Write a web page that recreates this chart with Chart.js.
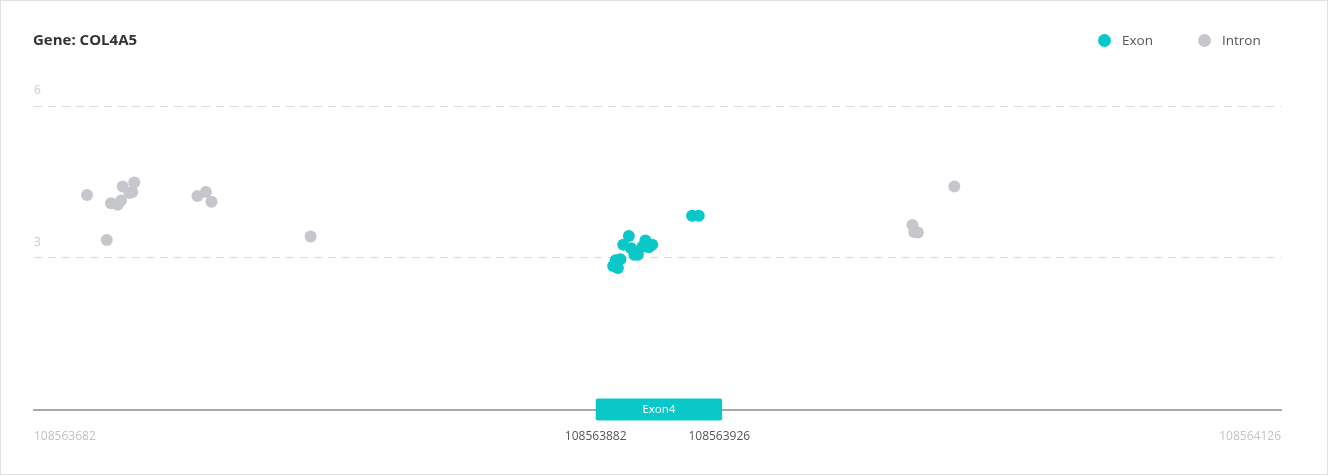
<!DOCTYPE html>
<html>
<head>
<meta charset="utf-8">
<script src="https://cdn.jsdelivr.net/npm/chart.js@4.4.1/dist/chart.umd.min.js"></script>
<style>
  html, body { margin: 0; padding: 0; background: #fff; }
  #card { position: relative; width: 1328px; height: 475px; box-sizing: border-box; border: 1px solid #e0e0e0; font-family: "Open Sans", "Noto Sans", sans-serif; }
  #plot { position: absolute; left: -1px; top: -1px; }
  .title { position: absolute; left: 32px; top: 28px; font-size: 15px; font-weight: 700; color: #333; line-height: 20px; }
  .legend { position: absolute; top: 29px; left: 1097px; font-size: 13.5px; color: #555; line-height: 20px; display: flex; }
  .legend span { display: flex; align-items: center; margin-right: 45px; }
  .legend i { display: inline-block; width: 13px; height: 13px; border-radius: 50%; margin-right: 11px; }
</style>
</head>
<body>
<div id="card">
  <canvas id="plot" width="1328" height="475"></canvas>
  <div class="title">Gene: COL4A5</div>
  <div class="legend">
    <span><i style="background:#0ac8c8"></i>Exon</span>
    <span><i style="background:#c5c7cd"></i>Intron</span>
  </div>
</div>
<script>
// genomic window and exon
const regionStart = 108563682;
const regionEnd = 108564126;
const exonName = 'Exon4';
const exonStart = 108563882;
const exonEnd = 108563926;
const xTickValues = [regionStart, exonStart, exonEnd, regionEnd];
const yTickValues = [0, 3, 6];

// variant positions and values
const exonPos = [108563888.2, 108563889.9, 108563889.1, 108563890.8, 108563891.8, 108563893.8, 108563894.6,
  108563895.8, 108563897.0, 108563898.6, 108563899.7, 108563900.9, 108563902.1, 108563916.3, 108563918.7];
const exonVal = [2.84, 2.80, 2.95, 2.97, 3.26, 3.43, 3.19, 3.06, 3.06, 3.22, 3.34, 3.21, 3.26, 3.83, 3.83];

const intronPos = [108563700.9, 108563707.9, 108563709.4, 108563711.8, 108563713.0, 108563713.6, 108563716.0,
  108563717.0, 108563717.7, 108563740.2, 108563743.2, 108563745.2, 108563780.5, 108564009.7, 108563994.8,
  108563995.4, 108563996.7];
const intronVal = [4.24, 3.35, 4.08, 4.05, 4.13, 4.41, 4.28, 4.30, 4.49, 4.22, 4.30, 4.11, 3.42, 4.41, 3.65, 3.51, 3.50];

const EXON_COLOR = '#0ac8c8';
const INTRON_COLOR = '#c5c7cd';

function points(xs, ys) {
  return xs.map((x, i) => ({ x, y: ys[i] }));
}

const exonBox = {
  id: 'exonBox',
  afterDraw(chart) {
    const { ctx, scales: { x }, chartArea } = chart;
    const left = x.getPixelForValue(exonStart);
    const right = x.getPixelForValue(exonEnd + 1);
    const y = chartArea.bottom;
    ctx.save();
    ctx.fillStyle = EXON_COLOR;
    ctx.beginPath();
    ctx.roundRect(left, y - 11, right - left, 22, 2);
    ctx.fill();
    ctx.fillStyle = '#fff';
    ctx.font = '11.5px "Open Sans", "Noto Sans", sans-serif';
    ctx.textAlign = 'center';
    ctx.textBaseline = 'middle';
    ctx.fillText(exonName, (left + right) / 2, y);
    ctx.restore();
  }
};

new Chart(document.getElementById('plot'), {
  type: 'scatter',
  data: {
    datasets: [
      { label: 'Exon', data: points(exonPos, exonVal), backgroundColor: EXON_COLOR, borderWidth: 0, pointRadius: 6, pointHoverRadius: 6 },
      { label: 'Intron', data: points(intronPos, intronVal), backgroundColor: INTRON_COLOR, borderWidth: 0, pointRadius: 6, pointHoverRadius: 6 }
    ]
  },
  options: {
    responsive: false,
    animation: false,
    events: [],
    layout: { padding: { left: 34, right: 47, top: 106, bottom: 11 } },
    plugins: { legend: { display: false }, tooltip: { enabled: false } },
    scales: {
      x: {
        type: 'linear',
        min: regionStart,
        max: regionEnd,
        afterBuildTicks: (axis) => { axis.ticks = xTickValues.map(v => ({ value: v })); },
        grid: { display: false, drawTicks: false },
        border: { display: true, color: '#a9a9a9', width: 2 },
        ticks: {
          align: 'inner',
          padding: 20,
          autoSkip: false,
          maxRotation: 0,
          font: { family: '"Open Sans", "Noto Sans", sans-serif', size: 12 },
          color: (c) => (c.tick && (c.tick.value === exonStart || c.tick.value === exonEnd)) ? '#555' : '#c2c2c2',
          callback: (v) => String(v)
        }
      },
      y: {
        min: 0,
        max: 6,
        afterBuildTicks: (axis) => { axis.ticks = yTickValues.map(v => ({ value: v })); },
        grid: {
          drawTicks: false,
          color: (c) => (c.tick && c.tick.value === 0) ? 'rgba(0,0,0,0)' : '#d9d9d9',
          lineWidth: 1
        },
        border: { display: false, dash: [8, 6] },
        ticks: {
          mirror: true,
          padding: 0,
          labelOffset: -15,
          font: { family: '"Open Sans", "Noto Sans", sans-serif', size: 12 },
          color: '#cccccc',
          callback: (v) => v === 0 ? '' : String(v)
        }
      }
    }
  },
  plugins: [exonBox]
});
</script>
</body>
</html>
